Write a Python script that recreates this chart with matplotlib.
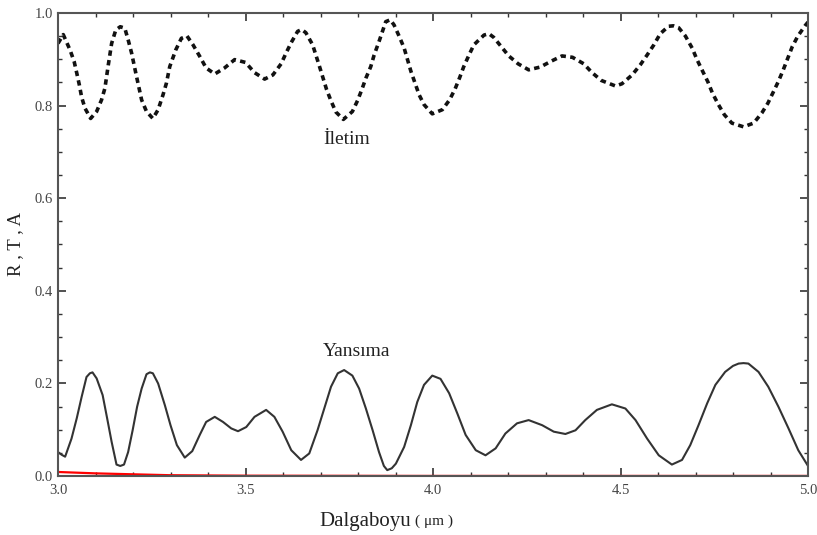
import matplotlib.pyplot as plt
from matplotlib.ticker import MultipleLocator

plt.rcParams['font.family'] = ['Liberation Serif', 'DejaVu Serif']

# Transmission (Iletim)
t_x = [3.000, 3.014, 3.032, 3.043, 3.050, 3.057, 3.063, 3.072, 3.087, 3.103, 3.116,
       3.125, 3.134, 3.143, 3.154, 3.166, 3.178, 3.187, 3.196, 3.209, 3.223, 3.236,
       3.253, 3.267, 3.280, 3.289, 3.298, 3.314, 3.329, 3.344, 3.360, 3.378, 3.395,
       3.418, 3.444, 3.471, 3.500, 3.524, 3.551, 3.573, 3.595, 3.608, 3.622, 3.639,
       3.650, 3.661, 3.679, 3.697, 3.716, 3.728, 3.741, 3.761, 3.785, 3.799, 3.810,
       3.821, 3.834, 3.843, 3.856, 3.874, 3.886, 3.896, 3.910, 3.923, 3.941, 3.963,
       3.976, 3.998, 4.025, 4.044, 4.059, 4.071, 4.082, 4.096, 4.109, 4.136, 4.149,
       4.162, 4.180, 4.202, 4.227, 4.255, 4.286, 4.316, 4.344, 4.372, 4.402, 4.424,
       4.449, 4.487, 4.504, 4.531, 4.553, 4.571, 4.589, 4.606, 4.628, 4.641, 4.655,
       4.673, 4.691, 4.704, 4.719, 4.733, 4.745, 4.761, 4.777, 4.797, 4.828, 4.855,
       4.877, 4.893, 4.908, 4.921, 4.934, 4.946, 4.958, 4.973, 4.992, 5.000]
t_y = [0.934, 0.953, 0.920, 0.895, 0.870, 0.844, 0.818, 0.794, 0.772, 0.787, 0.812,
       0.837, 0.887, 0.934, 0.963, 0.970, 0.967, 0.942, 0.914, 0.864, 0.812, 0.787,
       0.772, 0.791, 0.823, 0.848, 0.884, 0.920, 0.945, 0.950, 0.931, 0.906, 0.881,
       0.868, 0.881, 0.899, 0.893, 0.871, 0.857, 0.866, 0.890, 0.913, 0.936, 0.960,
       0.964, 0.957, 0.931, 0.885, 0.835, 0.810, 0.786, 0.770, 0.787, 0.811, 0.834,
       0.859, 0.884, 0.909, 0.938, 0.981, 0.985, 0.974, 0.949, 0.924, 0.874, 0.823,
       0.802, 0.782, 0.791, 0.812, 0.836, 0.860, 0.884, 0.909, 0.931, 0.952, 0.955,
       0.947, 0.929, 0.907, 0.890, 0.877, 0.883, 0.896, 0.907, 0.904, 0.890, 0.871,
       0.854, 0.842, 0.847, 0.866, 0.888, 0.909, 0.931, 0.955, 0.971, 0.972, 0.968,
       0.950, 0.924, 0.899, 0.874, 0.851, 0.827, 0.802, 0.780, 0.762, 0.754, 0.762,
       0.784, 0.805, 0.830, 0.852, 0.877, 0.902, 0.927, 0.950, 0.972, 0.980]

# Reflection (Yansima)
r_x = [3.000, 3.010, 3.019, 3.036, 3.050, 3.063, 3.076, 3.085, 3.092, 3.103, 3.119,
       3.131, 3.143, 3.156, 3.166, 3.176, 3.187, 3.199, 3.211, 3.223, 3.236, 3.245,
       3.253, 3.267, 3.285, 3.300, 3.317, 3.338, 3.358, 3.378, 3.395, 3.418, 3.440,
       3.462, 3.480, 3.502, 3.524, 3.555, 3.577, 3.599, 3.622, 3.648, 3.670, 3.692,
       3.710, 3.728, 3.746, 3.763, 3.785, 3.803, 3.821, 3.839, 3.856, 3.869, 3.878,
       3.890, 3.901, 3.923, 3.941, 3.958, 3.976, 3.998, 4.020, 4.043, 4.065, 4.087,
       4.114, 4.140, 4.167, 4.193, 4.224, 4.255, 4.291, 4.322, 4.353, 4.380, 4.406,
       4.437, 4.477, 4.513, 4.540, 4.571, 4.602, 4.637, 4.664, 4.686, 4.708, 4.731,
       4.753, 4.779, 4.800, 4.815, 4.828, 4.841, 4.868, 4.894, 4.921, 4.948, 4.974,
       5.000]
r_y = [0.052, 0.046, 0.042, 0.081, 0.125, 0.171, 0.214, 0.222, 0.224, 0.211, 0.175,
       0.125, 0.074, 0.025, 0.022, 0.025, 0.052, 0.099, 0.150, 0.189, 0.220, 0.224,
       0.222, 0.200, 0.153, 0.110, 0.067, 0.040, 0.054, 0.089, 0.117, 0.128, 0.117,
       0.103, 0.097, 0.106, 0.128, 0.143, 0.128, 0.096, 0.056, 0.035, 0.049, 0.099,
       0.146, 0.193, 0.222, 0.229, 0.217, 0.189, 0.146, 0.099, 0.052, 0.022, 0.013,
       0.017, 0.027, 0.063, 0.110, 0.160, 0.197, 0.217, 0.210, 0.179, 0.135, 0.089,
       0.056, 0.045, 0.060, 0.092, 0.114, 0.121, 0.110, 0.096, 0.091, 0.099, 0.121,
       0.143, 0.155, 0.146, 0.121, 0.081, 0.045, 0.025, 0.035, 0.067, 0.110, 0.157,
       0.197, 0.225, 0.238, 0.243, 0.244, 0.243, 0.225, 0.193, 0.150, 0.103, 0.056,
       0.022]

# Absorption
a_x = [3.0, 3.1, 3.2, 3.3, 3.5, 4.0, 4.5, 5.0]
a_y = [0.009, 0.006, 0.004, 0.002, 0.001, 0.0005, 0.0005, 0.0005]

fig = plt.figure(figsize=(8.17, 5.35), dpi=100)
ax = fig.add_axes([0.071, 0.110, 0.918, 0.866])

ax.plot(t_x, t_y, color='#111111', lw=2.6, dashes=(1.5, 1.2))
ax.plot(r_x, r_y, color='#333333', lw=1.5, solid_joinstyle='round')
ax.plot(a_x, a_y, color='red', lw=1.6)

ax.set_xlim(3.0, 5.0)
ax.set_ylim(0.0, 1.0)
ax.xaxis.set_major_locator(MultipleLocator(0.5))
ax.xaxis.set_minor_locator(MultipleLocator(0.1))
ax.yaxis.set_major_locator(MultipleLocator(0.2))
ax.yaxis.set_minor_locator(MultipleLocator(0.05))
ax.tick_params(which='both', direction='in', top=True, right=True,
               colors='#333333', labelcolor='#444444', labelsize=10.5)
ax.tick_params(which='major', length=6, width=1.2)
ax.tick_params(which='minor', length=3, width=1.0)
ax.tick_params(axis='x', pad=6)
for s in ax.spines.values():
    s.set_color('#555555')
    s.set_linewidth(1.5)

ax.text(3.771, 0.726, 'İletim', fontsize=14, ha='center', va='center', color='#222222')
ax.text(3.795, 0.268, 'Yansıma', fontsize=14, ha='center', va='center', color='#222222')

ax.set_ylabel('R , T , A', fontsize=13.5, color='#222222', labelpad=8)
fig.text(0.503, 0.025, 'Dalgaboyu', fontsize=15, ha='right', va='center', color='#222222')
fig.text(0.508, 0.025, '( μm )', fontsize=11, ha='left', va='center', color='#222222')

fig.savefig('out.png', dpi=100)
